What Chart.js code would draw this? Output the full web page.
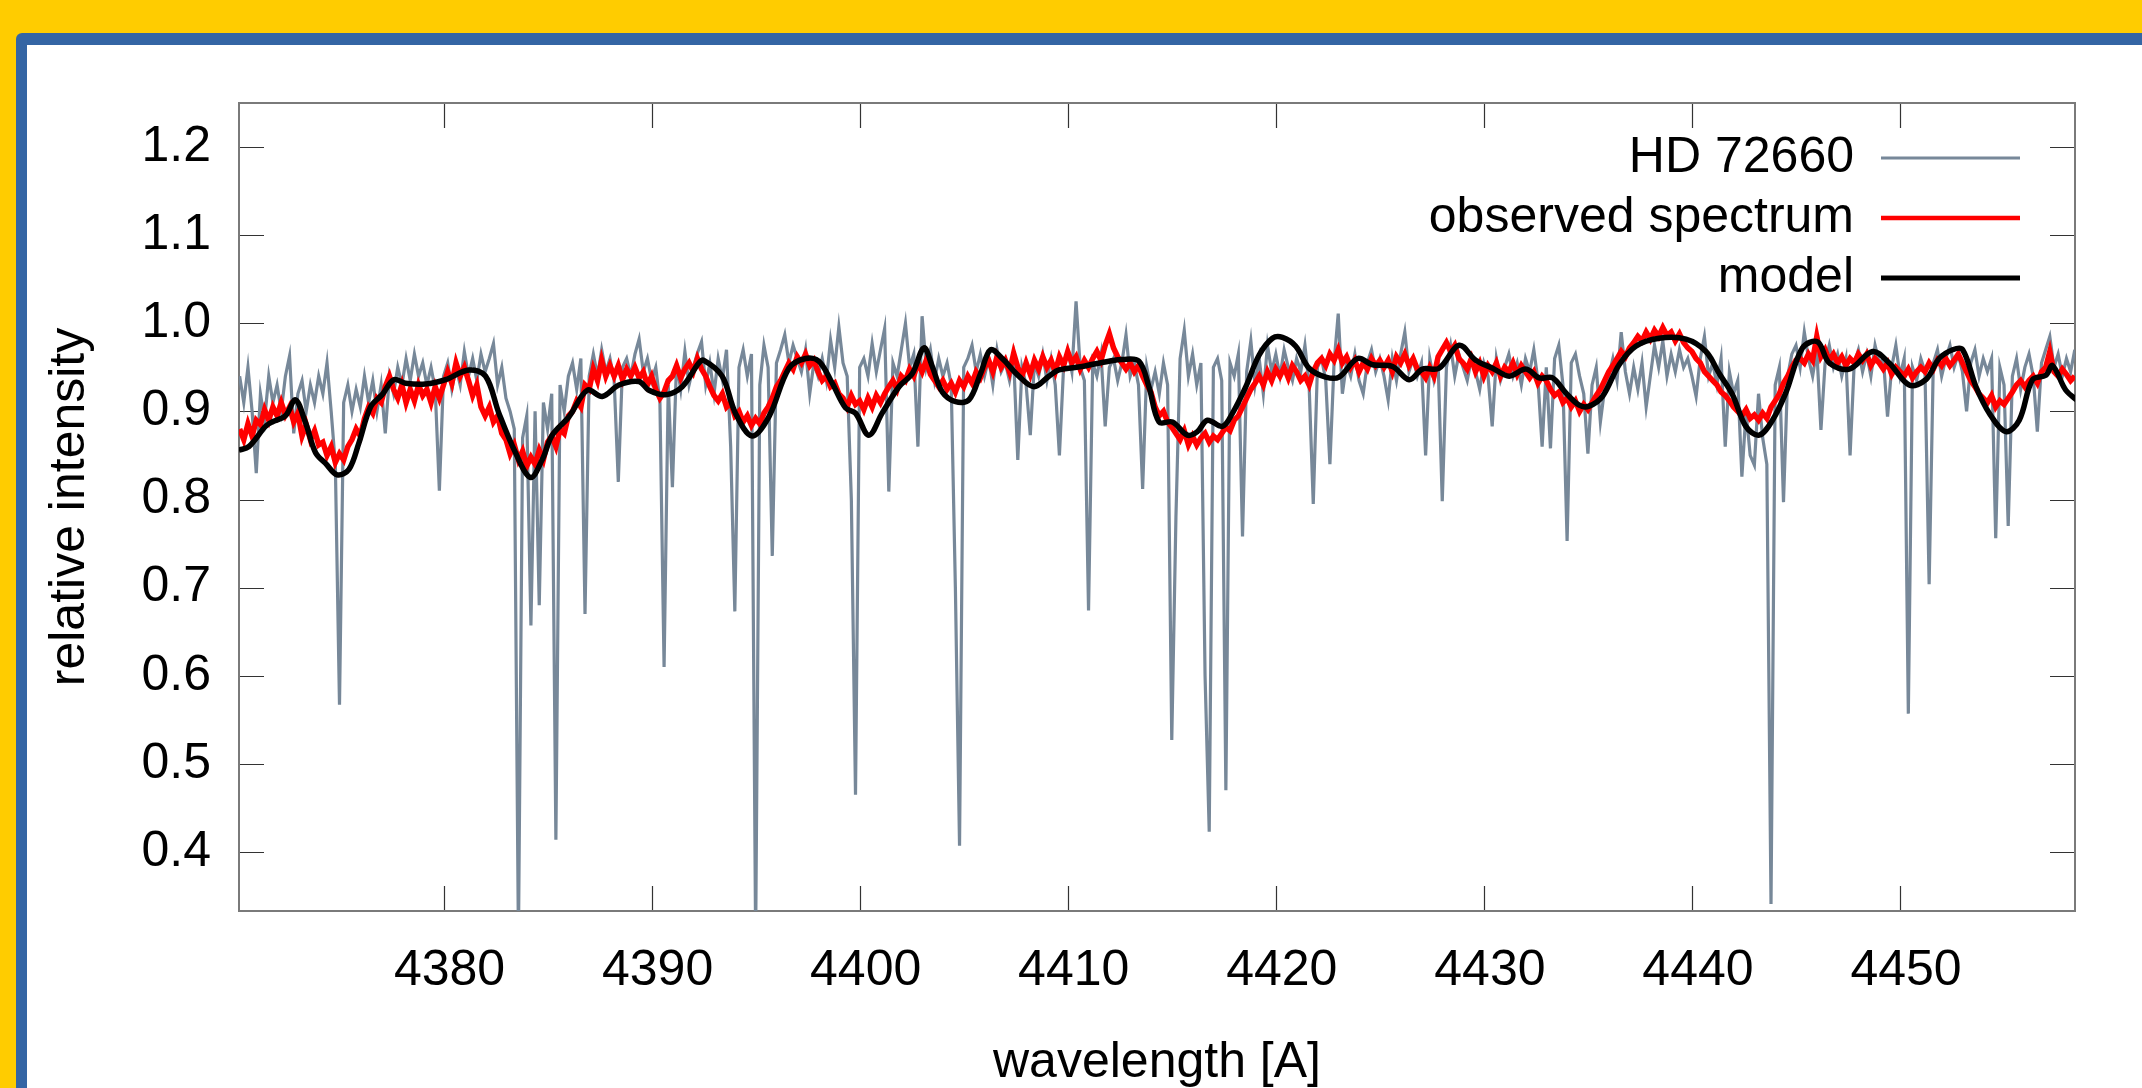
<!DOCTYPE html>
<html>
<head>
<meta charset="utf-8">
<script src="https://cdn.jsdelivr.net/npm/chart.js@4.4.1/dist/chart.umd.min.js"></script>
<style>
  html, body { margin: 0; padding: 0; background: #ffcc00; }
  #wrap { position: absolute; left: 0; top: 0; width: 2142px; height: 1088px; }
  canvas { display: block; }
</style>
</head>
<body>
<div id="wrap"><canvas id="c" width="2142" height="1088" style="width:2142px;height:1088px"></canvas></div>
<script>
// ---- wavelength sampling grid of the two observed spectra ----
const waveStart = 4370.2;
const waveStep = 0.2;

// HD 72660 (grey), one row per Angstrom: X.2, X.4, X.6, X.8, X+1.0
const hdFlux = [
  0.94, 0.91, 0.95, 0.90, 0.83,
  0.92, 0.89, 0.94, 0.91, 0.93,
  0.90, 0.94, 0.963, 0.875, 0.92,
  0.935, 0.90, 0.93, 0.91, 0.94,
  0.92, 0.955, 0.90, 0.84, 0.567,
  0.91, 0.93, 0.90, 0.925, 0.905,
  0.94, 0.91, 0.935, 0.90, 0.93,
  0.875, 0.94, 0.92, 0.95, 0.93,
  0.96, 0.935, 0.965, 0.94, 0.955,
  0.93, 0.95, 0.925, 0.81, 0.94,
  0.955, 0.925, 0.95, 0.93, 0.968,
  0.94, 0.96, 0.935, 0.965, 0.945,
  0.96, 0.977, 0.93, 0.95, 0.915,
  0.90, 0.88, 0.30, 0.87, 0.895,
  0.657, 0.90, 0.68, 0.91, 0.88,
  0.92, 0.414, 0.93, 0.90, 0.94,
  0.955, 0.925, 0.96, 0.67, 0.94,
  0.965, 0.94, 0.97, 0.945, 0.96,
  0.935, 0.82, 0.95, 0.96, 0.94,
  0.965, 0.982, 0.945, 0.96, 0.935,
  0.95, 0.91, 0.61, 0.93, 0.814,
  0.955, 0.925, 0.968, 0.93, 0.95,
  0.966, 0.979, 0.93, 0.955, 0.92,
  0.96, 0.936, 0.97, 0.86, 0.673,
  0.95, 0.97, 0.94, 0.965, 0.30,
  0.93, 0.975, 0.95, 0.736, 0.955,
  0.97, 0.987, 0.955, 0.975, 0.96,
  0.945, 0.97, 0.92, 0.955, 0.94,
  0.96, 0.935, 0.981, 0.95, 0.996,
  0.955, 0.94, 0.80, 0.465, 0.95,
  0.96, 0.94, 0.977, 0.945, 0.97,
  0.994, 0.809, 0.955, 0.94, 0.97,
  1.0, 0.95, 0.965, 0.86, 1.008,
  0.95, 0.97, 0.935, 0.96, 0.94,
  0.955, 0.93, 0.70, 0.407, 0.95,
  0.96, 0.975, 0.945, 0.965, 0.94,
  0.96, 0.93, 0.97, 0.945, 0.955,
  0.935, 0.96, 0.845, 0.95, 0.93,
  0.873, 0.955, 0.94, 0.965, 0.935,
  0.96, 0.93, 0.85, 0.95, 0.97,
  0.945, 1.025, 0.95, 0.935, 0.674,
  0.955, 0.94, 0.965, 0.883, 0.95,
  0.96, 0.935, 0.955, 0.987, 0.94,
  0.955, 0.93, 0.812, 0.95, 0.925,
  0.945, 0.92, 0.955, 0.93, 0.527,
  0.78, 0.96, 0.992, 0.94, 0.965,
  0.93, 0.955, 0.60, 0.423, 0.95,
  0.96, 0.935, 0.47, 0.955, 0.94,
  0.965, 0.758, 0.945, 0.98, 0.93,
  0.96, 0.92, 0.975, 0.945, 0.965,
  0.94, 0.97, 0.95, 0.935, 0.96,
  0.945, 0.975, 0.93, 0.795, 0.95,
  0.96, 0.935, 0.84, 0.955, 1.011,
  0.92, 0.955, 0.94, 0.965, 0.935,
  0.92, 0.955, 0.97, 0.945, 0.96,
  0.94, 0.913, 0.96, 0.935, 0.965,
  0.99, 0.945, 0.96, 0.94, 0.955,
  0.85, 0.96, 0.935, 0.955, 0.798,
  0.95, 0.975, 0.94, 0.965, 0.95,
  0.935, 0.96, 0.945, 0.925, 0.955,
  0.94, 0.883, 0.96, 0.935, 0.95,
  0.965, 0.94, 0.955, 0.93, 0.96,
  0.945, 0.97, 0.935, 0.86, 0.95,
  0.858, 0.96, 0.975, 0.93, 0.753,
  0.955, 0.965, 0.94, 0.92, 0.852,
  0.93, 0.95, 0.888, 0.925, 0.94,
  0.96, 0.935, 0.99, 0.945, 0.92,
  0.95, 0.925, 0.955, 0.905, 0.94,
  0.975, 0.95, 0.98, 0.94, 0.965,
  0.945, 0.97, 0.95, 0.96, 0.94,
  0.917, 0.96, 0.985, 0.94, 0.955,
  0.93, 0.96, 0.86, 0.945, 0.92,
  0.935, 0.826, 0.90, 0.85, 0.839,
  0.92, 0.87, 0.84, 0.341, 0.93,
  0.95, 0.797, 0.94, 0.965, 0.975,
  0.95, 0.99, 0.96, 0.94, 0.97,
  0.879, 0.955, 0.975, 0.95, 0.965,
  0.94, 0.96, 0.85, 0.955, 0.97,
  0.945, 0.965, 0.94, 0.975, 0.955,
  0.96, 0.894, 0.95, 0.975, 0.94,
  0.96, 0.557, 0.95, 0.935, 0.96,
  0.945, 0.704, 0.955, 0.97, 0.94,
  0.96, 0.975, 0.95, 0.965, 0.945,
  0.90, 0.955, 0.97, 0.94, 0.96,
  0.945, 0.96, 0.756, 0.95, 0.93,
  0.77, 0.94, 0.96, 0.925, 0.95,
  0.965, 0.94, 0.877, 0.955, 0.97,
  0.985, 0.95, 0.965, 0.94, 0.96,
  0.945, 0.97
];

// observed spectrum (red), same grid
const obsFlux = [
  0.88, 0.868, 0.886, 0.872, 0.89,
  0.885, 0.902, 0.89, 0.905, 0.895,
  0.91, 0.896, 0.905, 0.888, 0.898,
  0.872, 0.885, 0.868, 0.878, 0.862,
  0.865, 0.85, 0.86, 0.842, 0.852,
  0.845, 0.86, 0.868, 0.88, 0.872,
  0.892, 0.905, 0.898, 0.915, 0.91,
  0.928, 0.94, 0.925, 0.915, 0.93,
  0.91, 0.925, 0.912, 0.93, 0.918,
  0.925, 0.91, 0.928, 0.915, 0.93,
  0.945, 0.932, 0.955, 0.94, 0.95,
  0.935, 0.918, 0.93, 0.905, 0.895,
  0.905, 0.888, 0.895, 0.875, 0.868,
  0.852, 0.862, 0.845, 0.855, 0.838,
  0.848, 0.84, 0.856, 0.845, 0.865,
  0.872, 0.86, 0.88, 0.875, 0.895,
  0.90, 0.912, 0.905, 0.93, 0.925,
  0.948, 0.935, 0.958, 0.94, 0.952,
  0.94, 0.952, 0.936, 0.948, 0.94,
  0.95, 0.938, 0.945, 0.93, 0.94,
  0.925, 0.915, 0.922, 0.935, 0.94,
  0.952, 0.938, 0.948, 0.955, 0.945,
  0.96, 0.948, 0.94, 0.928, 0.918,
  0.912, 0.92, 0.905, 0.91, 0.895,
  0.90, 0.888, 0.895, 0.884, 0.892,
  0.886, 0.898, 0.905, 0.915, 0.928,
  0.935, 0.945, 0.955, 0.948, 0.962,
  0.955, 0.965, 0.952, 0.958, 0.945,
  0.935, 0.94, 0.928, 0.932, 0.92,
  0.915, 0.905, 0.918, 0.908, 0.912,
  0.902, 0.915, 0.905, 0.918, 0.91,
  0.92, 0.928, 0.935, 0.925, 0.94,
  0.935, 0.948, 0.94, 0.955, 0.945,
  0.958, 0.942, 0.935, 0.928, 0.935,
  0.925, 0.932, 0.922, 0.935, 0.928,
  0.94, 0.932, 0.945, 0.938, 0.95,
  0.958, 0.945, 0.962, 0.95, 0.958,
  0.945, 0.966, 0.95, 0.94, 0.955,
  0.942, 0.958, 0.948, 0.962, 0.95,
  0.958, 0.945, 0.962, 0.952, 0.968,
  0.955, 0.962, 0.948, 0.958, 0.95,
  0.96, 0.968, 0.958, 0.975, 0.988,
  0.972, 0.962, 0.955, 0.948, 0.955,
  0.945, 0.952, 0.94, 0.93, 0.922,
  0.905, 0.895, 0.90, 0.888, 0.882,
  0.875, 0.868, 0.878, 0.862, 0.872,
  0.862, 0.87, 0.875, 0.865, 0.872,
  0.868, 0.875, 0.882, 0.878, 0.89,
  0.895, 0.905, 0.915, 0.925, 0.932,
  0.94, 0.93, 0.945, 0.935, 0.948,
  0.94, 0.95, 0.938, 0.952, 0.945,
  0.935, 0.94, 0.93, 0.945, 0.955,
  0.96, 0.952, 0.965, 0.958, 0.97,
  0.955, 0.962, 0.95, 0.958, 0.945,
  0.955, 0.948, 0.96, 0.952, 0.958,
  0.95, 0.958, 0.945, 0.962, 0.955,
  0.965, 0.952, 0.96, 0.948, 0.945,
  0.938, 0.95, 0.94, 0.962, 0.97,
  0.978, 0.968, 0.975, 0.96, 0.955,
  0.948, 0.96, 0.945, 0.955, 0.94,
  0.952, 0.945, 0.955, 0.94, 0.95,
  0.945, 0.955, 0.942, 0.952, 0.945,
  0.938, 0.945, 0.932, 0.94, 0.935,
  0.925, 0.918, 0.922, 0.91, 0.915,
  0.905, 0.912, 0.90, 0.908, 0.902,
  0.91, 0.918, 0.925, 0.935, 0.945,
  0.952, 0.96, 0.968, 0.962, 0.972,
  0.978, 0.985, 0.98, 0.99, 0.982,
  0.992, 0.985, 0.995, 0.986, 0.99,
  0.98, 0.988, 0.978, 0.972, 0.968,
  0.96, 0.955, 0.945, 0.94, 0.935,
  0.93, 0.922, 0.918, 0.912, 0.905,
  0.90, 0.895, 0.902, 0.892, 0.896,
  0.89, 0.898, 0.892, 0.905, 0.912,
  0.92, 0.932, 0.94, 0.95, 0.958,
  0.96, 0.955, 0.965, 0.958, 0.985,
  0.962, 0.97, 0.958, 0.965, 0.955,
  0.962, 0.952, 0.96, 0.955, 0.965,
  0.958, 0.965, 0.952, 0.96, 0.955,
  0.948, 0.955, 0.942, 0.95, 0.945,
  0.94, 0.948, 0.938, 0.945, 0.95,
  0.945, 0.955, 0.948, 0.958, 0.952,
  0.96, 0.952, 0.958, 0.965, 0.955,
  0.945, 0.935, 0.928, 0.92, 0.915,
  0.91, 0.918, 0.905, 0.912, 0.908,
  0.915, 0.922, 0.93, 0.935, 0.928,
  0.935, 0.94, 0.932, 0.945, 0.95,
  0.968, 0.945, 0.94, 0.948, 0.942,
  0.935, 0.94
];

// model (black)
const modelWave = [
  4370.16, 4370.64, 4371.44, 4371.76, 4372.40, 4372.88, 4373.37, 4373.85, 4374.33, 4374.89,
  4375.45, 4375.93, 4376.49, 4377.05, 4377.61, 4378.17, 4379.13, 4380.10, 4381.22, 4382.02,
  4382.66, 4383.46, 4384.18, 4384.74, 4385.22, 4386.03, 4386.91, 4387.63, 4388.43, 4389.39,
  4389.87, 4390.67, 4391.47, 4392.27, 4392.51, 4393.39, 4394.03, 4394.83, 4395.64, 4396.60,
  4397.40, 4398.04, 4398.68, 4399.32, 4399.80, 4400.44, 4401.08, 4401.89, 4402.53, 4403.09,
  4403.49, 4403.97, 4404.61, 4405.25, 4405.81, 4406.29, 4406.85, 4407.65, 4408.38, 4409.10,
  4409.58, 4410.70, 4411.98, 4412.62, 4413.42, 4413.90, 4414.39, 4415.03, 4415.75, 4416.23,
  4416.71, 4417.43, 4417.92, 4418.56, 4419.20, 4419.84, 4420.32, 4420.96, 4421.60, 4422.40,
  4423.04, 4423.93, 4424.65, 4425.61, 4426.41, 4427.05, 4427.85, 4428.81, 4429.61, 4430.42,
  4431.22, 4432.02, 4432.66, 4433.30, 4433.94, 4434.58, 4435.06, 4435.70, 4436.50, 4437.30,
  4438.42, 4439.71, 4440.67, 4441.31, 4441.95, 4442.59, 4443.23, 4443.87, 4444.51, 4445.31,
  4446.04, 4446.60, 4447.56, 4448.68, 4449.48, 4450.44, 4451.24, 4451.88, 4452.53, 4453.01,
  4453.65, 4454.29, 4455.09, 4455.73, 4456.37, 4457.01, 4457.33, 4457.97, 4458.60
];
const modelFlux = [
  0.856, 0.860, 0.883, 0.888, 0.895, 0.913, 0.887, 0.853, 0.841, 0.828,
  0.834, 0.864, 0.905, 0.919, 0.936, 0.932, 0.931, 0.936, 0.947, 0.940,
  0.898, 0.853, 0.825, 0.845, 0.873, 0.894, 0.924, 0.917, 0.930, 0.934,
  0.924, 0.919, 0.928, 0.955, 0.958, 0.940, 0.898, 0.872, 0.894, 0.949,
  0.960, 0.957, 0.932, 0.904, 0.898, 0.873, 0.898, 0.928, 0.943, 0.972,
  0.951, 0.922, 0.911, 0.913, 0.943, 0.970, 0.960, 0.940, 0.928, 0.940,
  0.947, 0.951, 0.957, 0.959, 0.957, 0.928, 0.888, 0.888, 0.873, 0.877,
  0.890, 0.883, 0.898, 0.928, 0.964, 0.983, 0.984, 0.974, 0.949, 0.939,
  0.939, 0.960, 0.953, 0.951, 0.936, 0.948, 0.949, 0.975, 0.958, 0.949,
  0.940, 0.948, 0.938, 0.938, 0.921, 0.907, 0.906, 0.917, 0.953, 0.974,
  0.983, 0.982, 0.968, 0.943, 0.919, 0.883, 0.873, 0.890, 0.921, 0.972,
  0.979, 0.955, 0.948, 0.968, 0.955, 0.930, 0.936, 0.960, 0.970, 0.970,
  0.928, 0.898, 0.877, 0.890, 0.936, 0.941, 0.952, 0.924, 0.911
];

const xTicks = [4380, 4390, 4400, 4410, 4420, 4430, 4440, 4450];
const yTicks = [0.4, 0.5, 0.6, 0.7, 0.8, 0.9, 1.0, 1.1, 1.2];
const seriesNames = ['HD 72660', 'observed spectrum', 'model'];
const seriesColors = ['#778899', '#ff0000', '#000000'];

// ---- build datasets from the arrays ----
const hdPoints = hdFlux.map((v, i) => ({ x: waveStart + i * waveStep, y: v }));
const obsPoints = obsFlux.map((v, i) => ({ x: waveStart + i * waveStep, y: v }));
const modelPoints = modelFlux.map((v, i) => ({ x: modelWave[i], y: v }));

const FONT = '"Liberation Sans", Arial, sans-serif';

const framePlugin = {
  id: 'frame',
  beforeDraw(chart) {
    const ctx = chart.ctx;
    ctx.save();
    ctx.fillStyle = '#ffcc00';
    ctx.fillRect(0, 0, chart.width, chart.height);
    ctx.fillStyle = '#3465a4';
    ctx.beginPath();
    ctx.roundRect(16, 33, chart.width + 40, chart.height + 40, 6);
    ctx.fill();
    ctx.fillStyle = '#ffffff';
    ctx.fillRect(27, 45, chart.width, chart.height);
    ctx.restore();
  },
  beforeDatasetsDraw(chart) {
    const { ctx, chartArea: a, scales } = chart;
    ctx.save();
    ctx.strokeStyle = '#333333';
    ctx.lineWidth = 1.2;
    ctx.beginPath();
    const TL = 25;
    xTicks.forEach(v => {
      const px = Math.round(scales.x.getPixelForValue(v)) + 0.5;
      ctx.moveTo(px, a.bottom); ctx.lineTo(px, a.bottom - TL);
      ctx.moveTo(px, a.top); ctx.lineTo(px, a.top + TL);
    });
    yTicks.forEach(v => {
      const py = Math.round(scales.y.getPixelForValue(v)) + 0.5;
      ctx.moveTo(a.left, py); ctx.lineTo(a.left + TL, py);
      ctx.moveTo(a.right, py); ctx.lineTo(a.right - TL, py);
    });
    ctx.stroke();
    ctx.strokeStyle = '#7a7a7a';
    ctx.lineWidth = 2;
    ctx.strokeRect(a.left, a.top, a.right - a.left, a.bottom - a.top);
    ctx.restore();
  },
  afterDraw(chart) {
    const ctx = chart.ctx;
    ctx.save();
    ctx.font = '50px ' + FONT;
    ctx.textAlign = 'right';
    ctx.textBaseline = 'middle';
    const widths = [3.2, 4.5, 5];
    seriesNames.forEach((name, i) => {
      const y = 158 + i * 60;
      ctx.fillStyle = '#000000';
      ctx.fillText(name, 1854, y);
      ctx.strokeStyle = seriesColors[i];
      ctx.lineWidth = widths[i];
      ctx.beginPath();
      ctx.moveTo(1881, y);
      ctx.lineTo(2020, y);
      ctx.stroke();
    });
    ctx.restore();
  }
};

new Chart(document.getElementById('c'), {
  type: 'line',
  data: {
    datasets: [
      { label: seriesNames[2], data: modelPoints, borderColor: seriesColors[2], borderWidth: 5.5,
        pointRadius: 0, tension: 0.35, fill: false, order: 0 },
      { label: seriesNames[1], data: obsPoints, borderColor: seriesColors[1], borderWidth: 5.5,
        pointRadius: 0, tension: 0, fill: false, order: 1 },
      { label: seriesNames[0], data: hdPoints, borderColor: seriesColors[0], borderWidth: 3.2,
        pointRadius: 0, tension: 0, fill: false, order: 2 }
    ]
  },
  options: {
    responsive: false,
    animation: false,
    devicePixelRatio: 1,
    events: [],
    layout: { padding: { left: 0, top: 103, right: 67, bottom: 0 } },
    plugins: { legend: { display: false }, tooltip: { enabled: false } },
    scales: {
      x: {
        type: 'linear',
        min: 4370.17,
        max: 4458.41,
        afterBuildTicks: s => { s.ticks = xTicks.map(v => ({ value: v })); },
        afterFit: s => { s.height = 177; },
        grid: { display: false, drawTicks: false },
        border: { display: false },
        ticks: {
          color: '#000', padding: 30, labelOffset: 6, maxRotation: 0, autoSkip: false,
          font: { family: FONT, size: 50 },
          callback: v => String(v)
        },
        title: {
          display: true, text: 'wavelength [A]', color: '#000',
          font: { family: FONT, size: 50, lineHeight: 1 }, padding: { top: 0, bottom: 0 }
        }
      },
      y: {
        type: 'linear',
        min: 0.333,
        max: 1.25,
        afterBuildTicks: s => { s.ticks = yTicks.map(v => ({ value: v })); },
        afterFit: s => { s.width = 239; },
        grid: { display: false, drawTicks: false },
        border: { display: false },
        ticks: {
          color: '#000', padding: 28, autoSkip: false,
          font: { family: FONT, size: 50 },
          callback: v => Number(v).toFixed(1)
        },
        title: {
          display: true, text: 'relative intensity', color: '#000',
          font: { family: FONT, size: 50, lineHeight: 1 }, padding: { top: 45, bottom: 0 }
        }
      }
    }
  },
  plugins: [framePlugin]
});
</script>
</body>
</html>
